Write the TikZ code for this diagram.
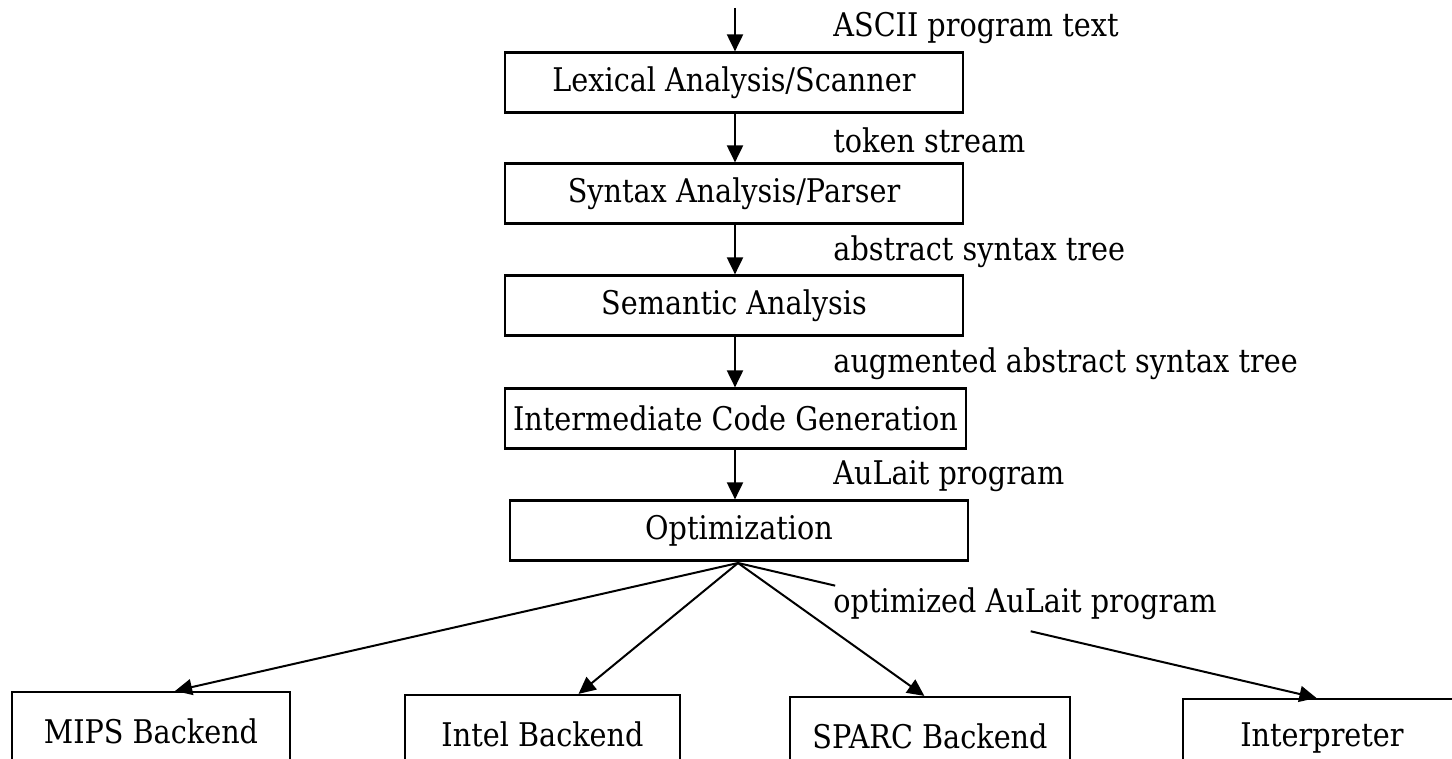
\documentclass[tikz,border=0pt]{standalone}
\usepackage{fontspec}
\setmainfont[FakeStretch=0.88]{DejaVu Serif}
\usetikzlibrary{arrows.meta,calc}
\begin{document}
\begin{tikzpicture}[x=0.5pt,y=-0.5pt,
  txt/.style={font=\fontsize{16.3}{19}\selectfont},
  box/.style={draw, line width=1.1pt, minimum width=229pt, minimum height=30pt, inner sep=0pt, txt},
  bbox/.style={draw, line width=1.1pt, minimum width=139pt, minimum height=39pt, inner sep=0pt, txt},
  lbl/.style={anchor=west, inner sep=0pt, txt},
  arr/.style={-{Triangle[length=8.5pt,width=8pt]}, line width=1pt},
  ln/.style={line width=1pt}]
\useasboundingbox (0,0) rectangle (1452,759);
\clip (0,0) rectangle (1452,759);
\fill[white] (0,0) rectangle (1452,759);

\node[box] (lex) at (734,82.5) {Lexical Analysis/Scanner};
\node[box] (syn) at (734,193.5) {Syntax Analysis/Parser};
\node[box] (sem) at (734,305.5) {Semantic Analysis};
\node[box, minimum width=230.5pt] (icg) at (735.5,418.5) {Intermediate Code Generation};
\node[box] (opt) at (739,530.5) {Optimization};

\node[bbox] (mips) at (151,731) {MIPS Backend};
\node[bbox, minimum width=137.5pt] (intel) at (542.5,734) {Intel Backend};
\node[bbox, minimum width=140pt] (sparc) at (930,736) {SPARC Backend};
\node[bbox] (interp) at (1322,738) {Interpreter};

\coordinate (in) at (735,8);
\draw[arr] (in) -- (lex.north -| in);
\draw[arr] (lex.south -| in) -- (syn.north -| in);
\draw[arr] (syn.south -| in) -- (sem.north -| in);
\draw[arr] (sem.south -| in) -- (icg.north -| in);
\draw[arr] (icg.south -| in) -- (opt.north -| in);

\node[lbl] (l1) at (833,28) {ASCII program text};
\node[lbl] (l2) at (833,140) {token stream};
\node[lbl] (l3) at (833,252) {abstract syntax tree};
\node[lbl] (l4) at (833,364) {augmented abstract syntax tree};
\node[lbl] (l5) at (833,476) {AuLait program};
\node[lbl] (l6) at (833,604) {optimized AuLait program};

\coordinate (o) at (738,563);
\coordinate (tm) at ($(mips.north west)!0.586!(mips.north east)$);
\coordinate (ti) at ($(intel.north west)!0.63!(intel.north east)$);
\coordinate (ts) at ($(sparc.north west)!0.48!(sparc.north east)$);
\coordinate (tp) at ($(interp.north west)!0.48!(interp.north east)$);
\draw[arr] (o) -- (tm);
\draw[arr] (o) -- (ti);
\draw[arr] (o) -- (ts);
\draw[ln] (o) -- ($(o)!0.168!(tp)$);
\draw[arr] ($(o)!0.506!(tp)$) -- (tp);
\end{tikzpicture}
\end{document}
